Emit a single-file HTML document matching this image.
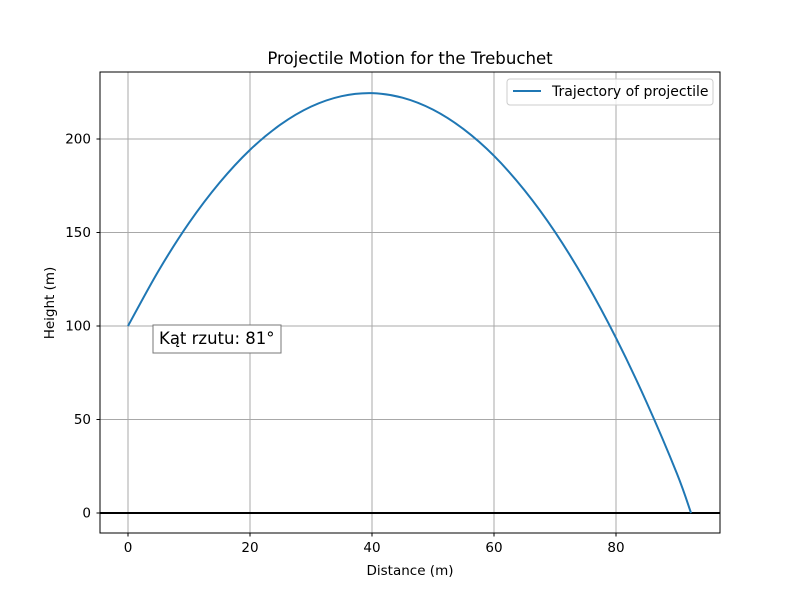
<!DOCTYPE html>
<html><head><meta charset="utf-8"><style>
body{margin:0;background:#fff}
svg text{font-family:"DejaVu Sans","Liberation Sans",sans-serif}
</style></head><body>
<svg width="800" height="600" xmlns="http://www.w3.org/2000/svg">
<rect width="800" height="600" fill="#fff"/>
<g id="grid"></g>
<g id="marks"></g>
<rect x="100" y="72" width="620" height="461" fill="none" stroke="#000" stroke-width="1"/>
<g id="ticks"></g>
<text x="410" y="64" text-anchor="middle" font-size="16.6">Projectile Motion for the Trebuchet</text>
<text x="410" y="575" text-anchor="middle" font-size="13.5">Distance (m)</text>
<text transform="translate(54,303) rotate(-90)" text-anchor="middle" font-size="13.5">Height (m)</text>
<g>
<rect x="507" y="79" width="206" height="26" rx="3" fill="#fff" fill-opacity="0.8" stroke="#ccc"/>
<line x1="513" y1="91" x2="541" y2="91" stroke="#1f77b4" stroke-width="2"/>
<text x="552" y="96" font-size="14">Trajectory of projectile</text>
</g>
<g>
<rect x="153" y="325" width="128" height="28" fill="#fff" stroke="#777"/>
<text x="159" y="344" font-size="16.5">Kąt rzutu: 81°</text>
</g>
</svg>
<script>
const xs=[0,5,10,15,20,25,30,35,40,45,50,55,60,65,70,75,80,85,90,92.3];
const ys=[100,129.5,155.1,176.6,194.2,207.7,217.3,222.9,224.5,222.1,215.7,205.3,191.0,172.6,150.3,123.9,93.6,59.3,21.0,0];
const xTicks=[0,20,40,60,80];
const yTicks=[0,50,100,150,200];
const X=v=>128+(v-0)*6.1;
const Y=v=>513-v*1.87;
const ns="http://www.w3.org/2000/svg";
const grid=document.getElementById('grid'),ticks=document.getElementById('ticks'),marks=document.getElementById('marks');
function mk(p,t,a){const e=document.createElementNS(ns,t);for(const k in a)e.setAttribute(k,a[k]);p.appendChild(e);return e;}
xTicks.forEach(v=>{
 const g=mk(grid,'line',{x1:X(v),x2:X(v),y1:72,y2:533,stroke:'#a8a8a8','stroke-width':1});
 
 
 const t=mk(ticks,'line',{x1:X(v),x2:X(v),y1:533,y2:536.5,stroke:'#000'});
 
 
 const l=mk(ticks,'text',{x:X(v),y:552,'text-anchor':'middle','font-size':13.5});l.textContent=v;
 
 
});
yTicks.forEach(v=>{
 const g=mk(grid,'line',{x1:100,x2:720,y1:Y(v),y2:Y(v),stroke:'#a8a8a8','stroke-width':1});
 
 
 const t=mk(ticks,'line',{x1:96.5,x2:100,y1:Y(v),y2:Y(v),stroke:'#000'});
 
 
 const l=mk(ticks,'text',{x:91,y:Y(v)+4.5,'text-anchor':'end','font-size':13.5});l.textContent=v;
 
 
});
const g0=mk(marks,'line',{x1:100,x2:720,y1:Y(0),y2:Y(0),stroke:'#000','stroke-width':2});


let d='';
for(let i=0;i<xs.length-1;i++){
 const x0=xs[i],x1=xs[i+1],y0=ys[i],y1=ys[i+1];
 const xm0=i>0?xs[i-1]:x0,ym0=i>0?ys[i-1]:y0;
 const xp=i+2<xs.length?xs[i+2]:x1,yp=i+2<xs.length?ys[i+2]:y1;
 if(i===0)d+='M'+X(x0)+','+Y(y0);
 const c1x=X(x0)+(X(x1)-X(xm0))/6,c1y=Y(y0)+(Y(y1)-Y(ym0))/6;
 const c2x=X(x1)-(X(xp)-X(x0))/6,c2y=Y(y1)-(Y(yp)-Y(y0))/6;
 d+=' C'+c1x+','+c1y+' '+c2x+','+c2y+' '+X(x1)+','+Y(y1);
}
const p=mk(marks,'path',{d:d,fill:'none',stroke:'#1f77b4','stroke-width':2});


</script>
</body></html>
